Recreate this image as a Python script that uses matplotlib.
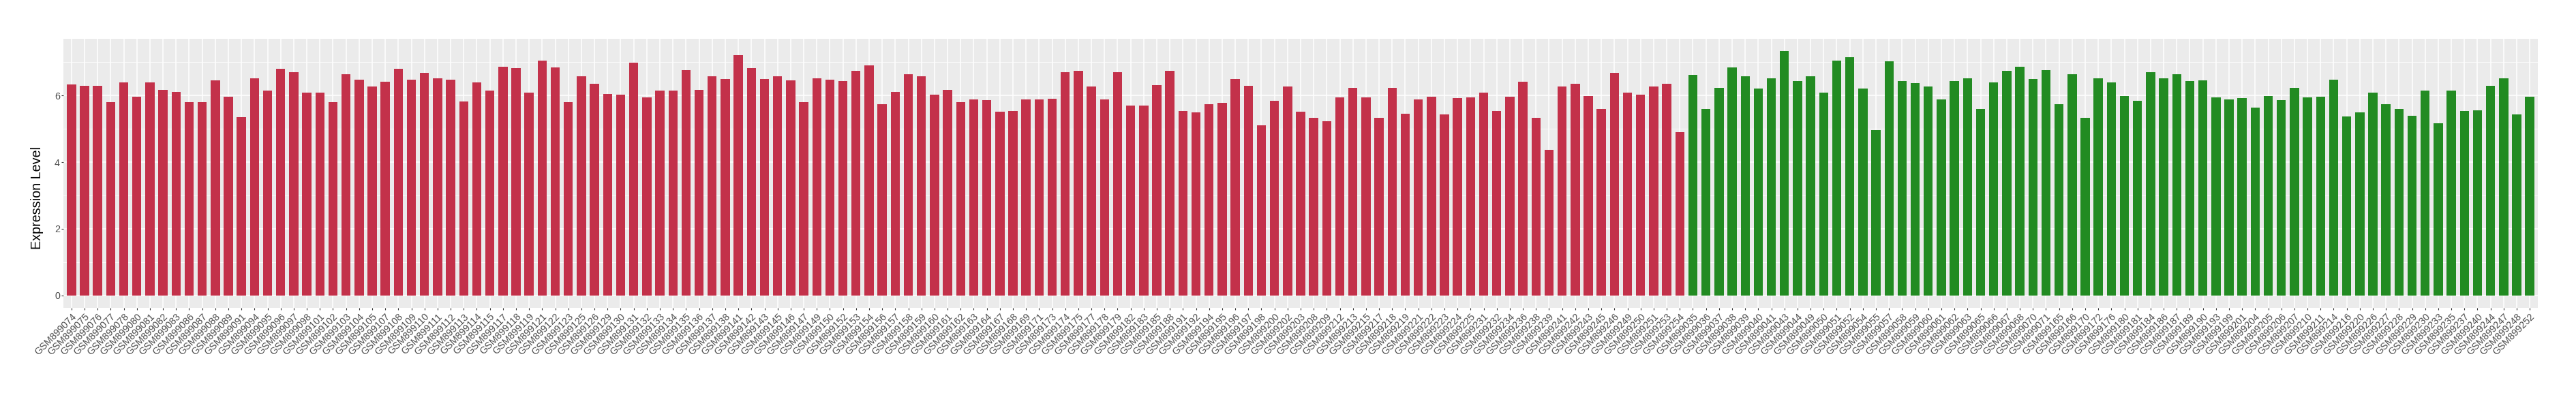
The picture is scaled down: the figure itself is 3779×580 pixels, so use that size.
import matplotlib
matplotlib.use('Agg')
import matplotlib.pyplot as plt
import matplotlib.transforms as mtransforms
from matplotlib.ticker import MultipleLocator

# sample ids (GSM899xxx) and expression values
red_ids = [
    '074', '075', '076', '077', '078', '080', '081', '082', '083', '086',
    '087', '088', '089', '091', '094', '095', '096', '097', '098', '101',
    '102', '103', '104', '105', '107', '108', '109', '110', '111', '112',
    '113', '114', '115', '117', '118', '119', '121', '122', '123', '125',
    '126', '129', '130', '131', '132', '133', '134', '135', '136', '137',
    '138', '141', '142', '143', '145', '146', '147', '149', '150', '152',
    '153', '154', '156', '157', '158', '159', '160', '161', '162', '163',
    '164', '167', '168', '169', '171', '173', '174', '175', '177', '178',
    '179', '182', '183', '185', '188', '191', '192', '194', '195', '196',
    '197', '198', '200', '202', '203', '208', '209', '212', '213', '215',
    '217', '218', '219', '221', '222', '223', '224', '225', '231', '232',
    '234', '236', '238', '239', '241', '242', '243', '245', '246', '249',
    '250', '251', '253', '254']
red_values = [
    6.34, 6.30, 6.30, 5.79, 6.40, 5.97, 6.40, 6.17, 6.11, 5.79,
    5.79, 6.46, 5.97, 5.36, 6.52, 6.14, 6.81, 6.69, 6.08, 6.09,
    5.80, 6.64, 6.48, 6.26, 6.42, 6.81, 6.48, 6.67, 6.52, 6.48,
    5.83, 6.40, 6.14, 6.87, 6.83, 6.08, 7.05, 6.85, 5.80, 6.58,
    6.36, 6.05, 6.03, 6.98, 5.95, 6.15, 6.14, 6.77, 6.17, 6.58,
    6.50, 7.22, 6.83, 6.50, 6.57, 6.46, 5.80, 6.52, 6.48, 6.44,
    6.75, 6.91, 5.74, 6.11, 6.63, 6.57, 6.02, 6.17, 5.80, 5.89,
    5.87, 5.52, 5.54, 5.89, 5.89, 5.91, 6.69, 6.75, 6.28, 5.89,
    6.69, 5.70, 5.70, 6.32, 6.75, 5.54, 5.50, 5.73, 5.77, 6.50,
    6.30, 5.11, 5.85, 6.26, 5.52, 5.32, 5.23, 5.95, 6.23, 5.95,
    5.33, 6.23, 5.46, 5.89, 5.97, 5.44, 5.93, 5.95, 6.08, 5.54,
    5.97, 6.42, 5.33, 4.36, 6.26, 6.36, 5.99, 5.60, 6.67, 6.08,
    6.02, 6.28, 6.36, 4.91]

green_ids = [
    '035', '036', '037', '038', '039', '040', '041', '043', '044', '049',
    '050', '051', '052', '054', '055', '057', '058', '059', '060', '061',
    '062', '063', '065', '066', '067', '068', '070', '071', '165', '166',
    '170', '172', '176', '180', '181', '184', '186', '187', '189', '190',
    '193', '199', '201', '204', '205', '206', '207', '210', '211', '214',
    '216', '220', '226', '227', '228', '229', '230', '233', '235', '237',
    '240', '244', '247', '248', '252']
green_values = [
    6.61, 5.60, 6.23, 6.85, 6.57, 6.20, 6.52, 7.34, 6.44, 6.58,
    6.08, 7.05, 7.14, 6.20, 4.97, 7.02, 6.44, 6.38, 6.26, 5.89,
    6.44, 6.52, 5.60, 6.40, 6.73, 6.87, 6.50, 6.77, 5.74, 6.64,
    5.32, 6.52, 6.40, 5.99, 5.85, 6.69, 6.52, 6.64, 6.44, 6.46,
    5.95, 5.89, 5.93, 5.64, 5.99, 5.87, 6.22, 5.95, 5.97, 6.48,
    5.38, 5.50, 6.09, 5.74, 5.60, 5.39, 6.14, 5.17, 6.14, 5.54,
    5.56, 6.30, 6.52, 5.44, 5.97]

RED = '#C3314A'
GREEN = '#228B22'

plt.rcParams['font.family'] = ['Liberation Sans', 'DejaVu Sans']

labels = ['GSM899' + s for s in red_ids + green_ids]
values = red_values + green_values
colors = [RED] * len(red_values) + [GREEN] * len(green_values)
x = list(range(len(values)))

W, H = 3780, 580
fig = plt.figure(figsize=(W / 100, H / 100), dpi=100)
left, right, top, bottom = 93.3, 3722.7, 56.7, 451.7
ax = fig.add_axes([left / W, 1 - bottom / H, (right - left) / W, (bottom - top) / H])

ax.set_facecolor('#EBEBEB')
for s in ax.spines.values():
    s.set_visible(False)

ax.bar(x, values, width=0.7, color=colors, zorder=2)

ymax = max(values)
ax.set_ylim(-0.05 * ymax, ymax * 1.05)
ax.set_xlim(-0.6, len(values) - 1 + 0.6)

ax.yaxis.set_major_locator(MultipleLocator(2))
ax.yaxis.set_minor_locator(MultipleLocator(1))
ax.set_xticks(x)
ax.set_xticklabels(labels, rotation=45, ha='right', va='top',
                   rotation_mode='anchor', fontsize=10.3, color='#4D4D4D')
shift = mtransforms.ScaledTranslation(5 / 100, 0, fig.dpi_scale_trans)
for lab in ax.get_xticklabels():
    lab.set_transform(lab.get_transform() + shift)

ax.tick_params(axis='y', which='major', labelsize=10.3, labelcolor='#4D4D4D',
               color='#333333', length=2.4, width=0.8, pad=1.5)
ax.tick_params(axis='y', which='minor', length=0)
ax.tick_params(axis='x', color='#333333', length=2.4, width=0.8, pad=2)

ax.grid(which='major', color='white', linewidth=1.1, zorder=0)
ax.grid(which='minor', axis='y', color='white', linewidth=0.55, zorder=0)
ax.set_axisbelow(True)

ax.set_ylabel('Expression Level', fontsize=14.2, color='black')
ax.yaxis.set_label_coords(64.5 / W, 0.5, transform=fig.transFigure)

fig.savefig('out.png', dpi=100)
